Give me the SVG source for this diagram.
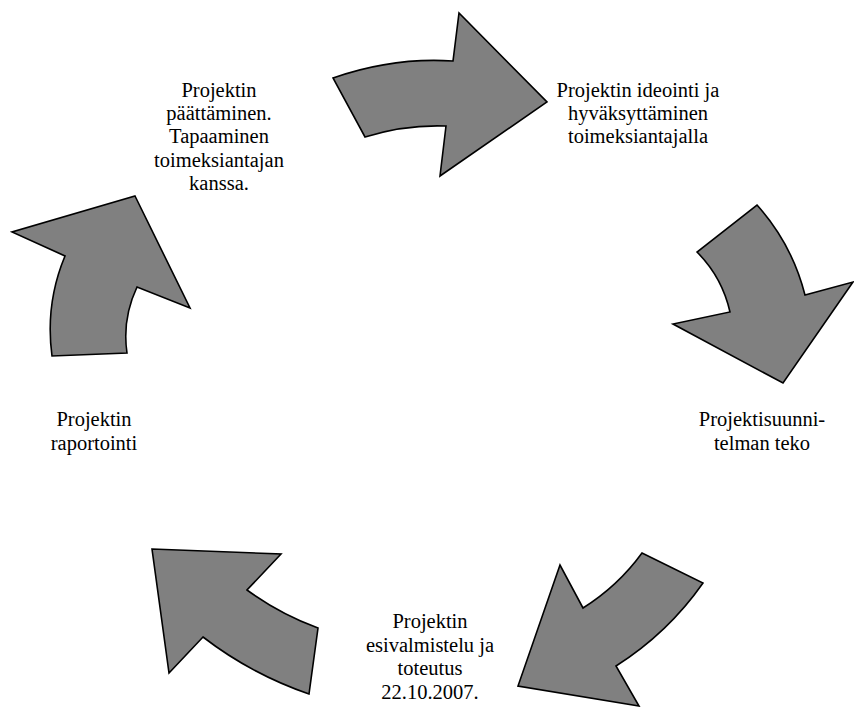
<svg xmlns="http://www.w3.org/2000/svg" width="854" height="707" viewBox="0 0 854 707">
  <style>
    .lbl { font-family: "Liberation Serif", "Times New Roman", serif; font-size: 20.5px; fill: #000; text-anchor: middle; }
    .arr { fill: #808080; stroke: #000; stroke-width: 1.6; stroke-linejoin: miter; }
  </style>
  <rect width="854" height="707" fill="#fff"/>

  <!-- curved block arrows of the cycle -->
  <g id="connectors">
    <path class="arr" d="M333,78 Q393,57 453,61 L459,13 L547,102 L440,176 L446,126 Q405,124.5 365,137 Z"/>
    <path class="arr" d="M757,205 Q792,244 805,295 L853,282 L783,383 L673,324 L730,312 Q722,277 697,252 Z"/>
    <path class="arr" d="M642,553 L703,583 Q668,633 616,666 L639,706 L518,686 L560,565 L583,608 Q618,586 642,553 Z"/>
    <path class="arr" d="M152,549 L281,554 L247,590 Q280,614 318,628 L309,694 Q251,674 203,637 L169,673 Z"/>
    <path class="arr" d="M135,196 L190,308 L137,287 Q122,319 127,353 L52,356 Q45,304 65,256 L12,232 Z"/>
  </g>

  <g id="step-ideointi">
    <text class="lbl" x="638" y="97">Projektin ideointi ja</text>
    <text class="lbl" x="638" y="120">hyväksyttäminen</text>
    <text class="lbl" x="638" y="143">toimeksiantajalla</text>
  </g>

  <g id="step-suunnitelma">
    <text class="lbl" x="762" y="426">Projektisuunni-</text>
    <text class="lbl" x="762" y="450">telman teko</text>
  </g>

  <g id="step-toteutus">
    <text class="lbl" x="430" y="628">Projektin</text>
    <text class="lbl" x="430" y="651.5">esivalmistelu ja</text>
    <text class="lbl" x="430" y="675">toteutus</text>
    <text class="lbl" x="430" y="698.5">22.10.2007.</text>
  </g>

  <g id="step-raportointi">
    <text class="lbl" x="94" y="426">Projektin</text>
    <text class="lbl" x="94" y="450">raportointi</text>
  </g>

  <g id="step-paattaminen">
    <text class="lbl" x="219" y="97">Projektin</text>
    <text class="lbl" x="219" y="120">päättäminen.</text>
    <text class="lbl" x="219" y="143">Tapaaminen</text>
    <text class="lbl" x="219" y="167">toimeksiantajan</text>
    <text class="lbl" x="219" y="190">kanssa.</text>
  </g>
</svg>
